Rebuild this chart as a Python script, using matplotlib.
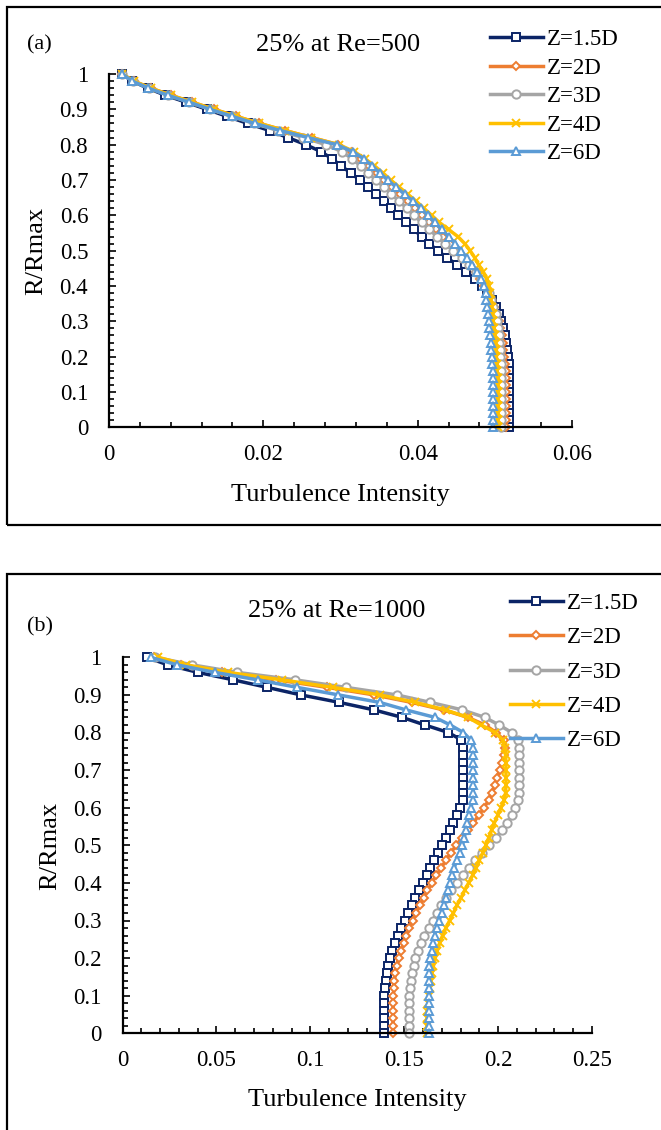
import matplotlib.pyplot as plt
from matplotlib.patches import Rectangle
from matplotlib.ticker import MultipleLocator, FuncFormatter

plt.rcParams['font.family'] = ['Liberation Serif', 'DejaVu Serif']

# radial position, top to bottom (same for every series)
r_rmax = [1.00, 0.98, 0.96, 0.94, 0.92, 0.90, 0.88, 0.86, 0.84, 0.82,
          0.80, 0.78, 0.76, 0.74, 0.72, 0.70, 0.68, 0.66, 0.64, 0.62,
          0.60, 0.58, 0.56, 0.54, 0.52, 0.50, 0.48, 0.46, 0.44, 0.42,
          0.40, 0.38, 0.36, 0.34, 0.32, 0.30, 0.28, 0.26, 0.24, 0.22,
          0.20, 0.18, 0.16, 0.14, 0.12, 0.10, 0.08, 0.06, 0.04, 0.02, 0.00]

labels = ['Z=1.5D', 'Z=2D', 'Z=3D', 'Z=4D', 'Z=6D']
colors = ['#0B2466', '#ED7D31', '#A5A5A5', '#FFC000', '#5B9BD5']
markers = ['s', 'D', 'o', 'x', '^']
msizes = [6.0, 4.5, 6.0, 5.5, 6.0]

# (a) 25% at Re=500
re500_z15 = [0.0017, 0.0030, 0.0050, 0.0073, 0.0100, 0.0127, 0.0153, 0.0180, 0.0208, 0.0232,
             0.0255, 0.0275, 0.0289, 0.0301, 0.0313, 0.0325, 0.0336, 0.0346, 0.0356, 0.0366,
             0.0375, 0.0385, 0.0395, 0.0405, 0.0415, 0.0426, 0.0438, 0.0451, 0.0463, 0.0474,
             0.0483, 0.0490, 0.0496, 0.0501, 0.0505, 0.0508, 0.0511, 0.0513, 0.0515, 0.0516,
             0.0517, 0.0518, 0.0519, 0.0519, 0.0519, 0.0519, 0.0519, 0.0519, 0.0519, 0.0519, 0.0519]
re500_z2 = [0.0017, 0.0032, 0.0054, 0.0080, 0.0108, 0.0136, 0.0165, 0.0195, 0.0228, 0.0263,
            0.0297, 0.0315, 0.0327, 0.0337, 0.0347, 0.0357, 0.0367, 0.0377, 0.0387, 0.0397,
            0.0406, 0.0415, 0.0424, 0.0433, 0.0442, 0.0451, 0.0460, 0.0468, 0.0475, 0.0481,
            0.0486, 0.0491, 0.0495, 0.0499, 0.0502, 0.0505, 0.0507, 0.0509, 0.0510, 0.0511,
            0.0512, 0.0513, 0.0514, 0.0514, 0.0514, 0.0514, 0.0514, 0.0514, 0.0514, 0.0514, 0.0514]
re500_z3 = [0.0017, 0.0031, 0.0052, 0.0077, 0.0104, 0.0131, 0.0159, 0.0188, 0.0219, 0.0252,
            0.0281, 0.0302, 0.0315, 0.0326, 0.0336, 0.0346, 0.0356, 0.0366, 0.0376, 0.0386,
            0.0395, 0.0405, 0.0415, 0.0425, 0.0435, 0.0446, 0.0457, 0.0467, 0.0475, 0.0482,
            0.0487, 0.0492, 0.0495, 0.0498, 0.0501, 0.0503, 0.0504, 0.0505, 0.0506, 0.0507,
            0.0507, 0.0508, 0.0508, 0.0508, 0.0508, 0.0508, 0.0508, 0.0508, 0.0508, 0.0508, 0.0508]
re500_z4 = [0.0017, 0.0032, 0.0054, 0.0080, 0.0108, 0.0136, 0.0165, 0.0195, 0.0228, 0.0262,
            0.0298, 0.0318, 0.0332, 0.0344, 0.0355, 0.0365, 0.0376, 0.0387, 0.0398, 0.0408,
            0.0418, 0.0428, 0.0440, 0.0452, 0.0461, 0.0468, 0.0474, 0.0479, 0.0485, 0.0490,
            0.0492, 0.0494, 0.0495, 0.0496, 0.0497, 0.0498, 0.0499, 0.0500, 0.0501, 0.0502,
            0.0502, 0.0503, 0.0503, 0.0504, 0.0504, 0.0504, 0.0504, 0.0504, 0.0504, 0.0504, 0.0504]
re500_z6 = [0.0017, 0.0030, 0.0051, 0.0076, 0.0104, 0.0131, 0.0160, 0.0189, 0.0222, 0.0258,
            0.0295, 0.0316, 0.0330, 0.0341, 0.0351, 0.0361, 0.0372, 0.0383, 0.0394, 0.0404,
            0.0413, 0.0422, 0.0431, 0.0440, 0.0449, 0.0456, 0.0464, 0.0471, 0.0477, 0.0482,
            0.0486, 0.0488, 0.0489, 0.0490, 0.0491, 0.0492, 0.0493, 0.0494, 0.0495, 0.0495,
            0.0496, 0.0496, 0.0497, 0.0497, 0.0497, 0.0497, 0.0497, 0.0497, 0.0497, 0.0497, 0.0497]

# (b) 25% at Re=1000
re1000_z15 = [0.013, 0.024, 0.040, 0.059, 0.077, 0.095, 0.1155, 0.134, 0.149, 0.161,
              0.1735, 0.1805, 0.1815, 0.1815, 0.1815, 0.1815, 0.1815, 0.1815, 0.1815, 0.1815,
              0.1795, 0.1780, 0.1762, 0.1742, 0.1722, 0.1702, 0.1682, 0.1661, 0.1639, 0.1619,
              0.1600, 0.1581, 0.1560, 0.1543, 0.1522, 0.1503, 0.1485, 0.1467, 0.1450, 0.1437,
              0.1426, 0.1416, 0.1407, 0.1401, 0.1396, 0.1392, 0.1390, 0.1390, 0.1390, 0.1390, 0.1390]
re1000_z2 = [0.017, 0.031, 0.053, 0.082, 0.109, 0.134, 0.154, 0.171, 0.184, 0.193,
             0.199, 0.203, 0.2035, 0.2030, 0.2020, 0.2008, 0.1995, 0.1982, 0.1968, 0.1950,
             0.1925, 0.1898, 0.1868, 0.1838, 0.1807, 0.1777, 0.1748, 0.1722, 0.1697, 0.1670,
             0.1647, 0.1624, 0.1604, 0.1583, 0.1563, 0.1545, 0.1528, 0.1512, 0.1497, 0.1483,
             0.1470, 0.1460, 0.1453, 0.1448, 0.1445, 0.1443, 0.1441, 0.1441, 0.1441, 0.1441, 0.1441]
re1000_z3 = [0.0175, 0.037, 0.061, 0.092, 0.119, 0.146, 0.164, 0.181, 0.193, 0.2005,
             0.2072, 0.2105, 0.2113, 0.2113, 0.2113, 0.2113, 0.2113, 0.2113, 0.2113, 0.2105,
             0.2092, 0.2072, 0.2048, 0.2020, 0.1988, 0.1952, 0.1915, 0.1878, 0.1843, 0.1812,
             0.1780, 0.1750, 0.1723, 0.1698, 0.1675, 0.1652, 0.1630, 0.1608, 0.1589, 0.1573,
             0.1560, 0.1550, 0.1541, 0.1535, 0.1530, 0.1528, 0.1527, 0.1527, 0.1527, 0.1527, 0.1527]
re1000_z4 = [0.019, 0.034, 0.056, 0.085, 0.112, 0.137, 0.156, 0.172, 0.184, 0.191,
             0.1985, 0.2025, 0.2035, 0.2040, 0.2042, 0.2042, 0.2042, 0.2042, 0.2040, 0.2033,
             0.2015, 0.1998, 0.1980, 0.1965, 0.1950, 0.1935, 0.1918, 0.1900, 0.1883, 0.1864,
             0.1843, 0.1822, 0.1802, 0.1780, 0.1762, 0.1742, 0.1722, 0.1704, 0.1689, 0.1676,
             0.1665, 0.1656, 0.1648, 0.1641, 0.1635, 0.1630, 0.1627, 0.1624, 0.1622, 0.1620, 0.1620]
re1000_z6 = [0.015, 0.029, 0.049, 0.072, 0.093, 0.115, 0.137, 0.151, 0.1665, 0.1745,
             0.1815, 0.1855, 0.1868, 0.1868, 0.1868, 0.1868, 0.1868, 0.1868, 0.1868, 0.1865,
             0.1855, 0.1845, 0.1836, 0.1828, 0.1820, 0.1810, 0.1795, 0.1780, 0.1766, 0.1755,
             0.1743, 0.1733, 0.1722, 0.1712, 0.1700, 0.1686, 0.1673, 0.1662, 0.1653, 0.1646,
             0.1638, 0.1634, 0.1630, 0.1630, 0.1630, 0.1630, 0.1630, 0.1630, 0.1630, 0.1630, 0.1630]

W, H = 661, 1130


def fx(px):
    return px / W


def fy(py):
    return 1 - py / H


def draw_panel(ax, series, xmax, xmajor, xminor, title, title_xy, leg_xy, leg_space):
    for vals, lab, c, m, ms in zip(series, labels, colors, markers, msizes):
        ax.plot(vals, r_rmax, color=c, lw=2.5, marker=m, ms=ms,
                mfc='white', mec=c, mew=1.4, label=lab, clip_on=False)
    ax.set_xlim(0, xmax)
    ax.set_ylim(0, 1)
    for s in ['top', 'right']:
        ax.spines[s].set_visible(False)
    for s in ['left', 'bottom']:
        ax.spines[s].set_linewidth(1.6)
    ax.xaxis.set_major_locator(MultipleLocator(xmajor))
    ax.xaxis.set_minor_locator(MultipleLocator(xminor))
    ax.yaxis.set_major_locator(MultipleLocator(0.1))
    ax.yaxis.set_minor_locator(MultipleLocator(0.02))
    fmt = FuncFormatter(lambda v, p: '%g' % round(v, 6))
    ax.xaxis.set_major_formatter(fmt)
    ax.yaxis.set_major_formatter(fmt)
    ax.tick_params(which='both', direction='in', width=1.2, labelsize=16.5)
    ax.tick_params(which='major', length=5)
    ax.tick_params(which='minor', length=3.5)
    ax.tick_params(axis='x', which='major', pad=12)
    ax.tick_params(axis='y', which='major', pad=15)
    ax.set_xlabel('Turbulence Intensity', fontsize=19, va='center')
    ax.set_ylabel('R/Rmax', fontsize=19, va='center')
    ax.set_title(title, fontsize=19, x=title_xy[0], y=title_xy[1], pad=0, va='center')
    ax.legend(loc='upper left', bbox_to_anchor=leg_xy, bbox_transform=fig.transFigure,
              frameon=False, fontsize=16.5, handlelength=2.3, handletextpad=0.2,
              borderpad=0, borderaxespad=0, labelspacing=leg_space)


fig = plt.figure(figsize=(W / 100, H / 100), dpi=100)

# panel (a)
ax1 = fig.add_axes([fx(109), fy(427.3), fx(572) - fx(109), fy(74) - fy(427.3)])
draw_panel(ax1, [re500_z15, re500_z2, re500_z3, re500_z4, re500_z6], 0.06, 0.02, 0.004,
           '25% at Re=500', ((338 - 109) / 463, (427.3 - 45) / 353.3), (fx(490), fy(29)), 0.33)
ax1.xaxis.set_label_coords(0.499, -0.192)
ax1.yaxis.set_label_coords(-0.158, 0.499)
fig.text(fx(39), fy(45), '(a)', fontsize=16, ha='center', va='center')

# panel (b)
ax2 = fig.add_axes([fx(122.5), fy(1033.3), fx(592) - fx(122.5), fy(657.3) - fy(1033.3)])
draw_panel(ax2, [re1000_z15, re1000_z2, re1000_z3, re1000_z4, re1000_z6], 0.25, 0.05, 0.01,
           '25% at Re=1000', ((337 - 122.5) / 469.5, (1033.3 - 611) / 376), (fx(510), fy(593)), 0.58)
ax2.xaxis.set_label_coords(0.4995, -0.177)
ax2.yaxis.set_label_coords(-0.153, 0.498)
fig.text(fx(40), fy(627), '(b)', fontsize=16, ha='center', va='center')

# panel frames
fig.patches.append(Rectangle((fx(7), fy(525)), fx(663) - fx(7), fy(7.5) - fy(525),
                             transform=fig.transFigure, fill=False, lw=1.6, ec='black'))
fig.patches.append(Rectangle((fx(7), fy(1140)), fx(663) - fx(7), fy(574) - fy(1140),
                             transform=fig.transFigure, fill=False, lw=1.6, ec='black'))

fig.savefig('out.png', dpi=100)
